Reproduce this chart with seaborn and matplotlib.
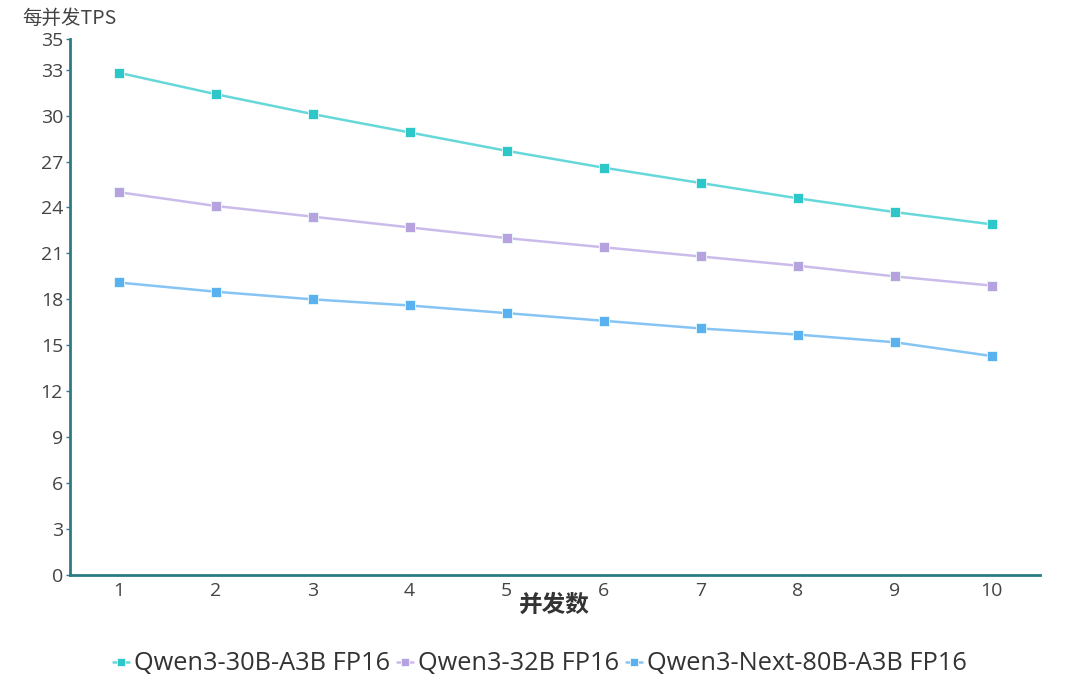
import matplotlib
matplotlib.use("Agg")
import matplotlib.pyplot as plt
import seaborn as sns
import pandas as pd
import numpy as np

concurrency = [1, 2, 3, 4, 5, 6, 7, 8, 9, 10]
series_names = ["Qwen3-30B-A3B FP16", "Qwen3-32B FP16", "Qwen3-Next-80B-A3B FP16"]
tps_30b = [32.8, 31.4, 30.1, 28.9, 27.7, 26.6, 25.6, 24.6, 23.7, 22.9]
tps_32b = [25.0, 24.1, 23.4, 22.7, 22.0, 21.4, 20.8, 20.2, 19.5, 18.9]
tps_next = [19.1, 18.5, 18.0, 17.6, 17.1, 16.6, 16.1, 15.7, 15.2, 14.3]
y_ticks = [0, 3, 6, 9, 12, 15, 18, 21, 24, 27, 30, 33, 35]
colors = ["#2ec7c9", "#b6a2de", "#5ab1ef"]
line_colors = ["#66d8d9", "#cbbbea", "#85c4f3"]

sns.set_theme(style="white")
plt.rcParams['font.family'] = ['Open Sans', 'Noto Sans CJK SC', 'DejaVu Sans']

df = pd.DataFrame({
    "x": concurrency * 3,
    "y": tps_30b + tps_32b + tps_next,
    "series": sum([[n] * len(concurrency) for n in series_names], []),
})

fig = plt.figure(figsize=(10.8, 6.83), dpi=100)
ax = fig.add_axes([70/1080, 1-575/683, 970/1080, 536/683])

for name, c in zip(series_names, colors):
    sub = df[df.series == name]
    sns.lineplot(data=sub, x="x", y="y", ax=ax, color=c, marker="s", markersize=7,
                 markeredgecolor="white", markeredgewidth=0.6, linewidth=1.8,
                 label=name)

for ln, c, lc in zip(ax.lines, colors, line_colors):
    ln.set_color(lc)
    ln.set_markerfacecolor(c)
    ln.set_markeredgecolor("#eefafa")

ax.set_xlim(0.5, 10.5)
ax.set_ylim(0, 35)
ax.set_xticks(concurrency)
ax.set_xticklabels([str(v) for v in concurrency])
ax.set_xticks(np.arange(0.5, 11, 1), minor=True)
ax.set_yticks(y_ticks)
ax.set_yticklabels([str(v) for v in y_ticks])

axis_color = "#2b7c85"
for s in ["top", "right"]:
    ax.spines[s].set_visible(False)
for s in ["left", "bottom"]:
    ax.spines[s].set_color(axis_color)
    ax.spines[s].set_linewidth(2)

ax.tick_params(axis="x", which="major", length=0, pad=5, labelsize=14, labelcolor="#444444")
ax.tick_params(axis="x", which="minor", length=3, width=1, color=axis_color, direction="out")
ax.tick_params(axis="y", which="major", length=3, width=1, color=axis_color, pad=2,
               labelsize=14, labelcolor="#444444", left=True)
ax.set_xlabel("")
ax.set_ylabel("")
ax.grid(False)

fig.text(22/1080, 1-18/683, "每并发TPS", ha="left", va="center", fontsize=14,
         color="#444444", family=['Noto Sans CJK SC', 'DejaVu Sans'])
fig.text(554/1080, 1-605/683, "并发数", ha="center", va="center", fontsize=17,
         fontweight="bold", color="#333333", family=['Noto Sans CJK SC', 'DejaVu Sans'])

handles, labels = ax.get_legend_handles_labels()
ax.legend(handles, labels, loc="center", bbox_to_anchor=(0.5, 1-664/683),
          bbox_transform=fig.transFigure, ncol=3, frameon=False, fontsize=18.3,
          handlelength=0.6, handletextpad=0.2, columnspacing=0.3,
          labelcolor="#333333", markerscale=0.9)

fig.savefig("out.png", dpi=100)
